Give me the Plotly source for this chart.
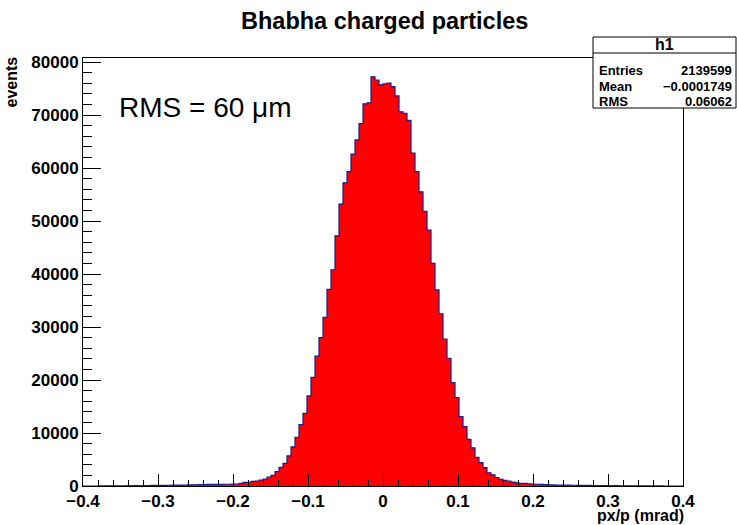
import numpy as np
import plotly.graph_objects as go

# ---------------- data ----------------
x_min, x_max, n_bins = -0.4, 0.4, 150
counts = [
    0, 0, 0, 0, 20, 30, 30, 40, 40, 50,
    50, 60, 60, 70, 80, 80, 90, 100, 110, 120,
    130, 140, 150, 160, 170, 190, 200, 220, 240, 260,
    280, 290, 300, 310, 320, 330, 330, 350, 380, 500,
    690, 710, 880, 940, 1130, 1320, 1700, 2020, 2700, 3530,
    4280, 5700, 7400, 9200, 11600, 13700, 17000, 20500, 24500, 28000,
    31800, 37100, 40800, 47200, 53200, 57200, 59300, 62600, 65300, 68400,
    72100, 72300, 77200, 76600, 75700, 75900, 76000, 75350, 73600, 70600,
    70300, 69000, 62800, 59300, 55500, 51800, 48300, 42000, 37000, 32500,
    27700, 24100, 19500, 16700, 13100, 11200, 8800, 7200, 5400, 4400,
    3450, 2500, 2100, 1600, 1260, 1070, 940, 750, 620, 510,
    490, 420, 380, 330, 300, 270, 240, 210, 190, 170,
    160, 150, 140, 130, 120, 110, 100, 90, 90, 80,
    70, 70, 60, 60, 50, 50, 40, 40, 30, 30,
    20, 20, 20, 10, 10, 0, 0, 0, 0, 0,
]
y_max = 80755
title = "Bhabha charged particles"
x_title = "px/p (mrad)"
y_title = "events"
stats_name = "h1"
stats_labels = ["Entries", "Mean", "RMS"]
stats_values = ["2139599", "\u22120.0001749", "0.06062"]
note = "RMS = 60 \u03bcm"

# ---------------- layout constants ----------------
W, H = 737, 525
L, R, T, B = 83, 683, 58, 486
FONT = "Liberation Sans, Arial, Helvetica, sans-serif"


def px(xp):
    return (xp - L) / (R - L)


def py(yp):
    return (B - yp) / (B - T)


edges = np.linspace(x_min, x_max, n_bins + 1)
xs = list(edges)
ys = list(counts) + [counts[-1]]

fig = go.Figure()
fig.add_trace(go.Scatter(
    x=xs, y=ys, mode="lines", line_shape="hv",
    line=dict(color="#1c1c8c", width=1.2),
    fill="tozeroy", fillcolor="#ff0000",
    hoverinfo="skip", showlegend=False,
))

axis_common = dict(
    showline=True, linecolor="black", linewidth=1, mirror=True,
    showgrid=False, zeroline=False, ticks="inside", tickcolor="black",
    tickwidth=1,
    tickfont=dict(family=FONT, size=17, color="black", weight=700),
)

fig.update_xaxes(
    range=[x_min, x_max], tick0=0, dtick=0.1, ticklen=12,
    minor=dict(dtick=0.02, tick0=0, ticklen=6, ticks="inside",
               tickcolor="black", showgrid=False),
    **axis_common,
)
fig.update_yaxes(
    range=[0, y_max], tick0=0, dtick=10000, ticklen=18, tickformat="d",
    minor=dict(dtick=2000, tick0=0, ticklen=9, ticks="inside",
               tickcolor="black", showgrid=False),
    **axis_common,
)

annotations = [
    dict(text="<b>" + title + "</b>", x=px(384), y=py(21), xref="paper",
         yref="paper", xanchor="center", yanchor="middle", showarrow=False,
         font=dict(family=FONT, size=23.5, color="black")),
    dict(text="<b>" + y_title + "</b>", x=px(11), y=py(55), xref="paper",
         yref="paper", xanchor="center", yanchor="top", textangle=-90,
         showarrow=False, font=dict(family=FONT, size=16, color="black")),
    dict(text="<b>" + x_title + "</b>", x=px(686), y=py(515), xref="paper",
         yref="paper", xanchor="right", yanchor="middle", showarrow=False,
         font=dict(family=FONT, size=16, color="black")),
    dict(text=note, x=px(117), y=py(107), xref="paper", yref="paper",
         xanchor="left", yanchor="middle", showarrow=False,
         font=dict(family=FONT, size=28, color="black")),
    dict(text="<b>" + stats_name + "</b>", x=px(664), y=py(45), xref="paper",
         yref="paper", xanchor="center", yanchor="middle", showarrow=False,
         font=dict(family=FONT, size=16, color="black")),
]
row_y = [70, 86, 101]
for lab, val, yy in zip(stats_labels, stats_values, row_y):
    annotations.append(dict(
        text="<b>" + lab + "</b>", x=px(597), y=py(yy), xref="paper",
        yref="paper", xanchor="left", yanchor="middle", showarrow=False,
        font=dict(family=FONT, size=13, color="black")))
    annotations.append(dict(
        text="<b>" + val + "</b>", x=px(734), y=py(yy), xref="paper",
        yref="paper", xanchor="right", yanchor="middle", showarrow=False,
        font=dict(family=FONT, size=13, color="black")))

shapes = [
    dict(type="rect", xref="paper", yref="paper", x0=px(593), x1=px(736),
         y0=py(108), y1=py(37), line=dict(color="black", width=1),
         fillcolor="white", layer="above"),
    dict(type="line", xref="paper", yref="paper", x0=px(593), x1=px(736),
         y0=py(53), y1=py(53), line=dict(color="black", width=1)),
]

fig.update_layout(
    width=W, height=H,
    margin=dict(l=L, r=W - R, t=T, b=H - B),
    paper_bgcolor="white", plot_bgcolor="white",
    annotations=annotations, shapes=shapes,
    font=dict(family=FONT, color="black"),
)

fig.write_html("out.html")
